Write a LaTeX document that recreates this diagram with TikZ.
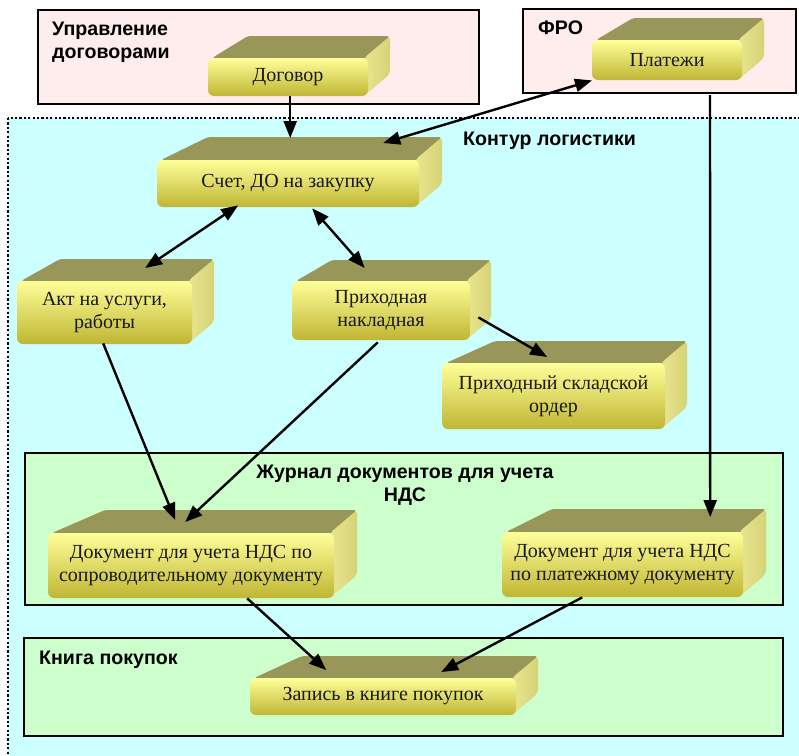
\documentclass[tikz,border=0pt]{standalone}
\usepackage{fontspec}
\setmainfont{Liberation Serif}
\newfontfamily\hdfont{Liberation Sans}
\usetikzlibrary{arrows.meta,calc}
\definecolor{pinkbg}{RGB}{255,236,236}
\definecolor{cyanbg}{RGB}{204,255,255}
\definecolor{greenbg}{RGB}{204,255,204}
\definecolor{topface}{RGB}{153,150,90}
\definecolor{sidea}{RGB}{232,230,144}
\definecolor{sideb}{RGB}{214,210,118}
\definecolor{fronttop}{RGB}{255,255,153}
\definecolor{frontmid}{RGB}{240,236,124}
\definecolor{frontbot}{RGB}{192,182,52}
\tikzset{
  grpbox/.style={draw=black, line width=1.5pt},
  grplabel/.style={font=\hdfont\bfseries\fontsize{19.6}{23}\selectfont, inner sep=0pt, align=left},
  cubetext/.style={font=\fontsize{20}{22.7}\selectfont, inner sep=0pt, align=center, text=black!90},
  cubebox/.style={inner sep=0pt, draw=none},
  conn/.style={line width=2.4pt, -{Triangle[length=17pt,width=13pt]}},
  dconn/.style={line width=2.4pt, {Triangle[length=17pt,width=13pt]}-{Triangle[length=17pt,width=13pt]}},
}
% #1 name, #2 x0, #3 y0, #4 W, #5 H, #6 d, #7 L, #8 text
\newcommand{\mycube}[8]{%
  \fill[topface, rounded corners=3pt] (#2+4,#3) -- (#2+#4,#3) -- (#2+#4+#6,#3-#6) -- (#2+#7,#3-#6) -- cycle;
  \shade[left color=sidea, right color=sideb, rounded corners=4pt] (#2+#4-4,#3) -- (#2+#4+#6,#3-#6) -- (#2+#4+#6,#3+#5-#6) -- (#2+#4-4,#3+#5) -- cycle;
  \shade[top color=fronttop, middle color=frontmid, bottom color=frontbot, rounded corners=6pt] (#2,#3) rectangle (#2+#4,#3+#5);
  \node[cubebox, anchor=north west, minimum width={(#4+#6)*1pt}, minimum height={(#5+#6)*1pt}] (#1) at (#2,#3-#6) {};
  \node[cubetext] (#1t) at (#2+#4/2,#3+#5/2) {#8};
}
\begin{document}
\begin{tikzpicture}[x=1pt,y=-1pt]
\useasboundingbox (0,0) rectangle (799,755);
\fill[white] (0,0) rectangle (799,755);
\begin{scope}
\clip (0,0) rectangle (799,755);
% groups
\filldraw[grpbox, fill=pinkbg] (38,10) rectangle (479,104);
\filldraw[grpbox, fill=pinkbg] (523,9) rectangle (796,93);
\filldraw[fill=cyanbg, draw=black, line width=2.2pt, dash pattern=on 2.2pt off 2.2pt] (8,118) rectangle (830,790);
\filldraw[grpbox, fill=greenbg] (25,453) rectangle (783,605);
\filldraw[grpbox, fill=greenbg] (24,638) rectangle (783,736);
\end{scope}
% group labels
\node[grplabel, anchor=north west] (lblupr) at (52,22) {Управление\\договорами};
\node[grplabel, anchor=base west] (lblfro) at (538,34) {ФРО};
\node[grplabel, anchor=base west] (lblkont) at (463,145) {Контур логистики};
\node[grplabel, anchor=north, align=center] (lbljur) at (405,465) {Журнал документов для учета\\НДС};
\node[grplabel, anchor=base west] (lblkn) at (39,664) {Книга покупок};
% cubes
\mycube{dog}{208}{58}{160}{38}{22}{40}{Договор}
\mycube{plat}{592}{40}{150}{40}{22}{41}{Платежи}
\mycube{schet}{157}{160}{262}{47}{23}{51}{Счет, ДО на закупку}
\mycube{akt}{17}{281}{175}{63}{22}{43}{Акт на услуги,\\работы}
\mycube{prih}{292}{281}{178}{59}{21}{40}{Приходная\\накладная}
\mycube{order}{442}{363}{223}{66}{22}{53}{Приходный складской\\ордер}
\mycube{docs}{48}{533}{286}{65}{23}{57}{Документ для учета НДС по\\сопроводительному документу}
\mycube{docp}{502}{532}{241}{65}{23}{50}{Документ для учета НДС\\по платежному документу}
\mycube{zap}{250}{678}{266}{37}{22}{52}{Запись в книге покупок}
\coordinate (froout) at (710,95);
% connectors
\draw[conn] ($(dog.south)+(-9,0)$) -- ($(schet.north)+(-9.5,1)$);
\draw[dconn] ($(schet.north)+(83.5,6)$) -- (plat.south west);
\draw[dconn] ($(schet.south)+(-61.5,-2)$) -- ($(akt.north)+(29.5,9)$);
\draw[dconn] ($(schet.south)+(12.5,1)$) -- ($(prih.north)+(-27,8)$);
\draw[conn] ($(prih.south east)+(-13,-23)$) -- ($(order.north)+(-17.5,16)$);
\draw[conn] ($(akt.south)+(-12.5,-1)$) -- ($(docs.north)+(-27.5,10)$);
\draw[conn] ($(prih.south)+(-14,2)$) -- ($(docs.north)+(-17.5,12)$);
\draw[conn] (froout) -- ($(docp.north)+(76,8)$);
\draw[conn] ($(docs.south)+(44.5,0)$) -- ($(zap.north)+(-68,14)$);
\draw[conn] ($(docp.south)+(-52,0)$) -- ($(zap.north)+(47,16)$);
\end{tikzpicture}
\end{document}
